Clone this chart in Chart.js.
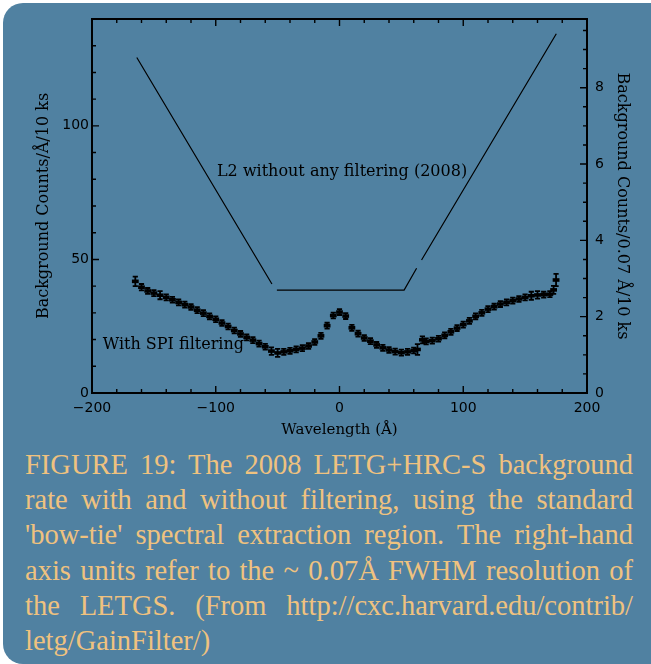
<!DOCTYPE html>
<html><head><meta charset="utf-8">
<script src="https://cdn.jsdelivr.net/npm/chart.js@4.4.1/dist/chart.umd.min.js"></script>
<style>
html,body{margin:0;padding:0;background:#fff;width:651px;height:664px;overflow:hidden;position:relative;}
#card{position:absolute;left:3px;top:3px;width:700px;height:661px;background:#5081a1;border-radius:20px;}
#chart{position:absolute;left:0;top:0;}
#caption{position:absolute;left:25px;top:447px;width:608px;font-family:"Liberation Serif","Times New Roman",serif;font-size:28.5px;line-height:35.2px;color:#efc27f;}
#caption div{text-align:justify;text-align-last:justify;}
#caption div.last{text-align:left;text-align-last:left;}
</style></head>
<body>
<div id="card"></div>
<canvas id="chart" width="651" height="440"></canvas>
<div id="caption">
<div>FIGURE 19: The 2008 LETG+HRC-S background</div>
<div>rate with and without filtering, using the standard</div>
<div>'bow-tie' spectral extraction region. The right-hand</div>
<div>axis units refer to the ~ 0.07Å FWHM resolution of</div>
<div>the LETGS. (From http://cxc.harvard.edu/contrib/</div>
<div class="last">letg/GainFilter/)</div>
</div>
<script>
// ---- data ----
const l2X = [-163.8, -54.6, -52.6, -50.6, 52.2, 62.3, 64.3, 66.3, 175.2];
const l2Y = [125.6, 40.8, null, 38.5, 38.5, 46.7, null, 49.8, 134.5];

const spiX = [-165,-160,-155,-150,-145,-140,-135,-130,-125,-120,-115,-110,-105,-100,-95,-90,-85,-80,-75,-70,-65,-60,-55,-50,-45,-40,-35,-30,-25,-20,-15,-10,-5,0,5,10,15,20,25,30,35,40,45,50,55,60,63,67,70,75,80,85,90,95,100,105,110,115,120,125,130,135,140,145,150,155,160,165,170,173,175];
const spiY = [41.8,39.6,38.2,37.4,36.6,35.8,34.9,33.9,33.1,32.2,31.0,29.9,28.7,27.6,26.2,24.9,23.4,22.1,20.8,19.8,18.5,17.3,15.7,15.0,15.4,15.8,16.3,16.8,17.6,19.1,21.4,25.2,29.0,30.3,28.8,24.4,22.2,20.6,19.4,18.0,16.9,16.1,15.5,15.1,15.4,15.9,16.3,19.9,19.3,19.6,20.3,21.6,22.9,24.3,25.6,27.0,28.7,30.0,31.4,32.3,33.3,33.9,34.6,35.2,35.8,36.4,36.7,36.8,37.0,38.6,42.3];
const spiErr = [1.8,1.2,1.1,1.1,1.5,1.1,1.1,1.1,1.1,1.1,1.1,1.1,1.1,1.1,1.1,1.1,1.1,1.1,1.1,1.1,1.1,1.1,1.4,1.5,1.1,1.1,1.1,1.1,1.1,1.1,1.1,1.1,1.1,1.1,1.1,1.1,1.1,1.1,1.1,1.1,1.1,1.1,1.1,1.1,1.1,1.1,2.0,1.3,1.1,1.1,1.1,1.1,1.1,1.1,1.1,1.1,1.1,1.1,1.1,1.1,1.1,1.1,1.1,1.1,1.1,1.5,1.4,1.1,1.1,1.5,2.3];

const xTickValues = [-200,-100,0,100,200];
const xTickLabels = ['\u2212200','\u2212100','0','100','200'];
const yTickValues = [0,50,100];
const yTickLabels = ['0','50','100'];
const y2TickValues = [0,2,4,6,8];
const y2TickLabels = ['0','2','4','6','8'];

const annoText = ['L2 without any filtering (2008)', 'With SPI filtering'];
const annoX = [-99, -191.3];
const annoY = [82.8, 18.0];

const Y_MAX = 140;
const Y2_FACTOR = 0.07;

// ---- plugins ----
const errorBars = {
  id: 'errorBars',
  afterDatasetsDraw(chart) {
    const {ctx, scales: {x, y}} = chart;
    ctx.save();
    ctx.strokeStyle = '#000';
    ctx.lineWidth = 1.8;
    for (let i = 0; i < spiX.length; i++) {
      const px = x.getPixelForValue(spiX[i]);
      const p1 = y.getPixelForValue(spiY[i] + spiErr[i]);
      const p2 = y.getPixelForValue(spiY[i] - spiErr[i]);
      ctx.beginPath();
      ctx.moveTo(px, p1); ctx.lineTo(px, p2);
      ctx.moveTo(px - 2.6, p1); ctx.lineTo(px + 2.6, p1);
      ctx.moveTo(px - 2.6, p2); ctx.lineTo(px + 2.6, p2);
      ctx.stroke();
    }
    ctx.restore();
  }
};

const annotations = {
  id: 'annotations',
  afterDatasetsDraw(chart) {
    const {ctx, scales: {x, y}} = chart;
    ctx.save();
    ctx.fillStyle = '#000';
    ctx.font = '16px "DejaVu Serif"';
    ctx.textBaseline = 'middle';
    ctx.textAlign = 'left';
    for (let i = 0; i < annoText.length; i++) {
      ctx.fillText(annoText[i], x.getPixelForValue(annoX[i]), y.getPixelForValue(annoY[i]));
    }
    ctx.restore();
  }
};

const frameTicks = {
  id: 'frameTicks',
  afterDraw(chart) {
    const {ctx, chartArea: {left, right, top, bottom}, scales: {x, y, y2}} = chart;
    ctx.save();
    ctx.strokeStyle = '#000';
    ctx.lineWidth = 1.4;
    ctx.beginPath();
    for (let v = -200; v <= 200; v += 20) {
      const px = x.getPixelForValue(v);
      const len = (v % 100 === 0) ? 7 : 4;
      ctx.moveTo(px, bottom); ctx.lineTo(px, bottom - len);
      ctx.moveTo(px, top); ctx.lineTo(px, top + len);
    }
    for (let v = 0; v <= Y_MAX; v += 10) {
      const py = y.getPixelForValue(v);
      const len = (v % 50 === 0) ? 7 : 4;
      ctx.moveTo(left, py); ctx.lineTo(left + len, py);
    }
    for (let k = 0; k * 0.5 <= Y_MAX * Y2_FACTOR; k++) {
      const v = k * 0.5;
      const py = y2.getPixelForValue(v);
      const len = (k % 4 === 0) ? 7 : 4;
      ctx.moveTo(right, py); ctx.lineTo(right - len, py);
    }
    ctx.stroke();
    ctx.lineWidth = 2;
    ctx.strokeRect(left, top, right - left, bottom - top);
    ctx.restore();
  }
};

const tickFont = {family: 'DejaVu Sans', size: 14};
const titleFont = {family: 'DejaVu Serif', size: 16};

new Chart(document.getElementById('chart'), {
  type: 'scatter',
  data: {
    datasets: [
      {
        type: 'line',
        label: 'L2 without any filtering (2008)',
        data: l2X.map((v, i) => ({x: v, y: l2Y[i]})),
        borderColor: '#000',
        borderWidth: 1.2,
        pointRadius: 0,
        spanGaps: false,
        fill: false,
        tension: 0
      },
      {
        type: 'scatter',
        label: 'With SPI filtering',
        data: spiX.map((v, i) => ({x: v, y: spiY[i]})),
        pointStyle: 'line',
        pointRadius: 3.4,
        borderColor: '#000',
        backgroundColor: '#000',
        borderWidth: 3.6
      }
    ]
  },
  options: {
    responsive: false,
    animation: false,
    devicePixelRatio: 1,
    layout: {padding: {top: 19, left: 0, right: 0, bottom: 0}},
    plugins: {legend: {display: false}, tooltip: {enabled: false}},
    scales: {
      x: {
        type: 'linear', min: -200, max: 200, position: 'bottom',
        grid: {display: false, drawTicks: false},
        border: {display: false},
        afterBuildTicks: s => { s.ticks = xTickValues.map(v => ({value: v})); },
        afterFit: s => { s.height = 47; },
        ticks: {color: '#000', font: tickFont, padding: 7, maxRotation: 0, autoSkip: false,
                callback: (v, i) => xTickLabels[i]},
        title: {display: true, text: 'Wavelength (Å)', color: '#000',
                font: {family: 'DejaVu Serif', size: 15}, padding: {top: 0, bottom: 1}}
      },
      y: {
        type: 'linear', min: 0, max: Y_MAX, position: 'left',
        grid: {display: false, drawTicks: false},
        border: {display: false},
        afterBuildTicks: s => { s.ticks = yTickValues.map(v => ({value: v})); },
        afterFit: s => { s.width = 92; },
        ticks: {color: '#000', font: tickFont, padding: 3, autoSkip: false,
                callback: (v, i) => yTickLabels[i]},
        title: {display: true, text: 'Background Counts/Å/10 ks', color: '#000',
                font: titleFont, padding: {top: 34.4, bottom: 0}}
      },
      y2: {
        type: 'linear', min: 0, max: Y_MAX * Y2_FACTOR, position: 'right',
        grid: {display: false, drawTicks: false},
        border: {display: false},
        afterBuildTicks: s => { s.ticks = y2TickValues.map(v => ({value: v})); },
        afterFit: s => { s.width = 64; },
        ticks: {color: '#000', font: tickFont, padding: 8, autoSkip: false,
                callback: (v, i) => y2TickLabels[i]},
        title: {display: true, text: 'Background Counts/0.07 Å/10 ks', color: '#000',
                font: titleFont, padding: {top: 19.4, bottom: 0}}
      }
    }
  },
  plugins: [errorBars, annotations, frameTicks]
});
</script>
</body></html>
